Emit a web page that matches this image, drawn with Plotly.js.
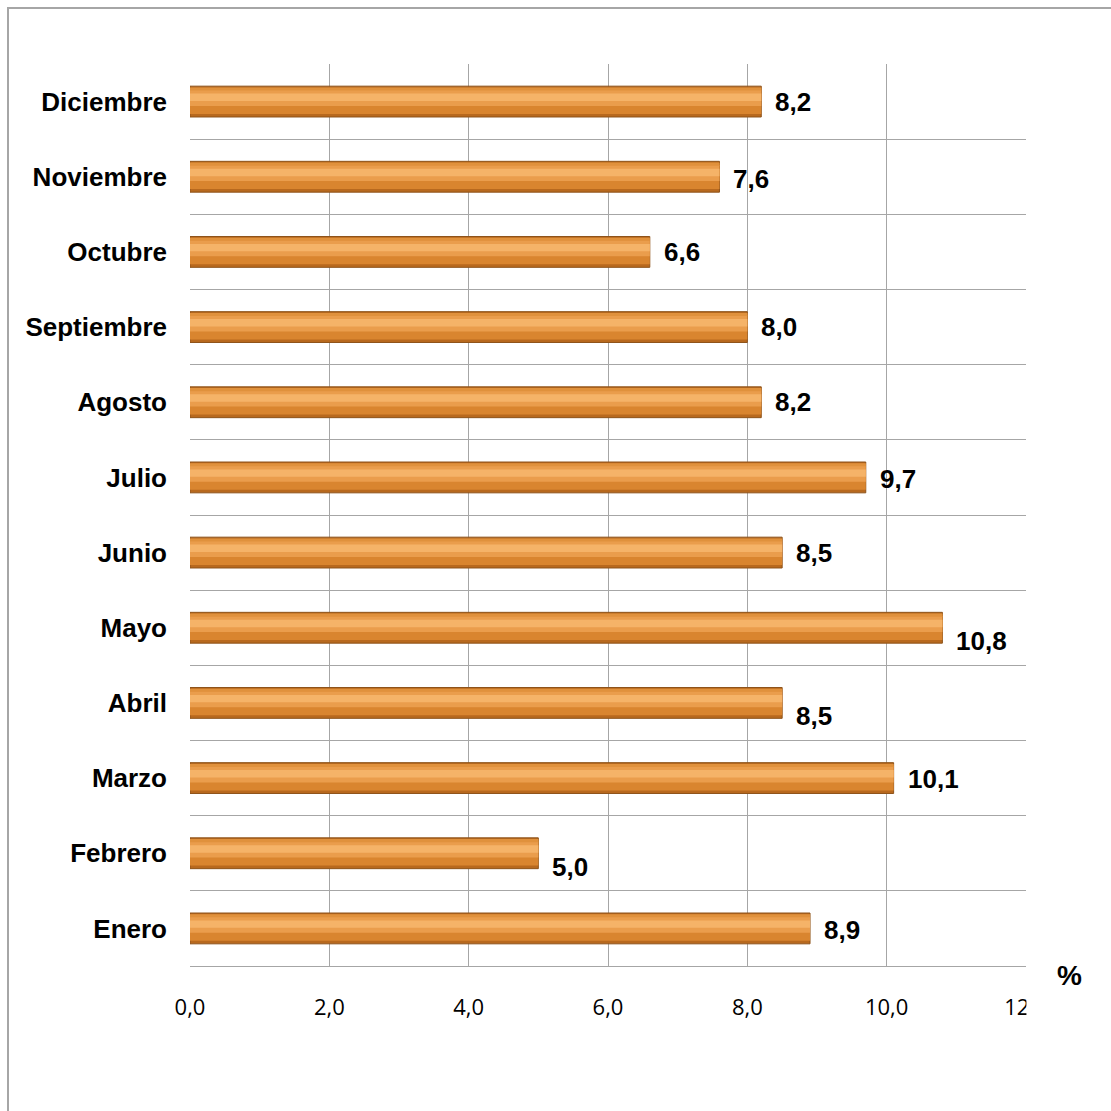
<!DOCTYPE html>
<html>
<head>
<meta charset="utf-8">
<script src="https://cdn.plot.ly/plotly-3.0.1.min.js"></script>
<style>html,body{margin:0;padding:0;background:#fff;}#chart{width:1111px;height:1111px;}</style>
</head>
<body>
<div id="chart"></div>
<script>
var months = ["Enero","Febrero","Marzo","Abril","Mayo","Junio","Julio","Agosto","Septiembre","Octubre","Noviembre","Diciembre"];
var values = [8.9, 5.0, 10.1, 8.5, 10.8, 8.5, 9.7, 8.2, 8.0, 6.6, 7.6, 8.2];
var valueLabels = ["8,9","5,0","10,1","8,5","10,8","8,5","9,7","8,2","8,0","6,6","7,6","8,2"];
var labelNudgeY = [-2, -14, -1, -13, -13, 0, -2, 0, 0, 0, -2, 0];
var xTickVals = [0, 2, 4, 6, 8, 10, 12];
var xTickText = ["0,0","2,0","4,0","6,0","8,0","10,0","12,0"];

var W = 0.41;
function layer(width, offset, color, lineColor, lineWidth) {
  return {
    type: "bar", orientation: "h", x: values, y: months,
    width: months.map(function(){return width;}),
    offset: months.map(function(){return offset;}),
    marker: {color: color, line: {color: lineColor || color, width: lineWidth || 0}},
    hoverinfo: "skip", showlegend: false
  };
}
var traces = [
  layer(W, -W/2, "#B8691E", "#8E531A", 1),
  layer(W*0.84, -W/2 + W*0.10, "#D9852F"),
  layer(W*0.52, -W/2 + W*0.36, "#EA9D4C"),
  layer(W*0.24, -W/2 + W*0.52, "#F5B368"),
  layer(W*0.10, -W/2 + W*0.86, "#E0913C")
];

var annotations = values.map(function(v, i){
  return {x: v, y: months[i], xref: "x", yref: "y", text: valueLabels[i], showarrow: false,
    xanchor: "left", yanchor: "middle", xshift: 12, yshift: labelNudgeY[i],
    font: {family: "Liberation Sans, Arial, sans-serif", size: 26, color: "#000", weight: "bold"}};
});
annotations.push({x: 1.0526, y: -0.011, xref: "paper", yref: "paper", text: "%", showarrow: false,
  xanchor: "center", yanchor: "middle",
  font: {family: "Liberation Sans, Arial, sans-serif", size: 28, color: "#000", weight: "bold"}});

var layout = {
  width: 1111, height: 1111,
  margin: {l: 190, r: 85, t: 64, b: 145},
  paper_bgcolor: "#fff", plot_bgcolor: "#fff",
  barmode: "overlay",
  showlegend: false,
  xaxis: {
    range: [0, 12], tickvals: xTickVals, ticktext: xTickText,
    showgrid: true, gridcolor: "#A6A6A6", gridwidth: 1, zeroline: false,
    showline: true, linecolor: "#A6A6A6", linewidth: 1, mirror: false,
    ticks: "", ticklabelstandoff: 22,
    tickfont: {family: "Open Sans, Liberation Sans, sans-serif", size: 22, color: "#000"},
    fixedrange: true
  },
  yaxis: {
    type: "category", categoryorder: "array", categoryarray: months,
    tickson: "boundaries", showgrid: true, gridcolor: "#A6A6A6", gridwidth: 1,
    showline: false, ticks: "", ticklabelstandoff: 22,
    tickfont: {family: "Liberation Sans, Arial, sans-serif", size: 26, color: "#000", weight: "bold"},
    fixedrange: true
  },
  annotations: annotations,
  shapes: [
    {type: "rect", xref: "paper", yref: "paper", x0: -0.2177, x1: 1.25, y0: -0.25, y1: 1.0621,
     line: {color: "#A6A6A6", width: 2}, fillcolor: "rgba(0,0,0,0)", layer: "below"},
    {type: "rect", xref: "paper", yref: "paper", x0: 1.0005, x1: 1.05, y0: -0.07, y1: -0.018,
     line: {width: 0}, fillcolor: "#fff", layer: "above"}
  ]
};

Plotly.newPlot("chart", traces, layout, {displayModeBar: false, staticPlot: true});
</script>
</body>
</html>
